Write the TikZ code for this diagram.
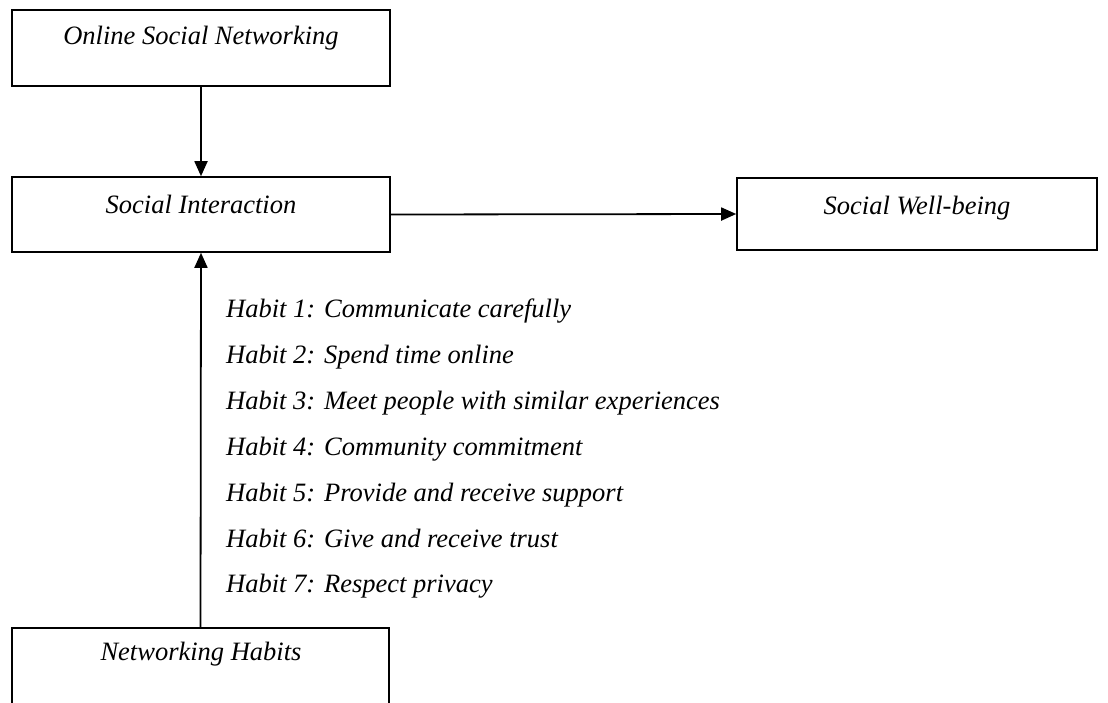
\documentclass[tikz,border=0pt]{standalone}
\usepackage{fontspec}
\setmainfont{Liberation Serif}
\usetikzlibrary{arrows.meta}
\tikzset{
  box/.style={draw, line width=1.6pt, rectangle, inner sep=0pt},
  lbl/.style={font=\itshape\fontsize{26.5}{30}\selectfont, inner sep=0pt},
  habit/.style={font=\itshape\fontsize{26.5}{30}\selectfont, inner sep=0pt, anchor=base west},
  conn/.style={line width=1.8pt, -{Triangle[length=15pt,width=13pt]}}
}
\begin{document}
\begin{tikzpicture}[x=1pt,y=-1pt]
\useasboundingbox (0,0) rectangle (1108,702);
\clip (0,0) rectangle (1108,702);
% boxes
\node[box, minimum width=378pt, minimum height=76pt] (osn) at (201,48) {};
\node[box, minimum width=378pt, minimum height=75pt] (si) at (201,214.5) {};
\node[box, minimum width=360pt, minimum height=72pt] (sw) at (917,214) {};
\node[box, minimum width=377pt, minimum height=90pt] (nh) at (200.5,673) {};
% box texts
\node[lbl] (osnt) at (201,38) {Online Social Networking};
\node[lbl] (sit) at (201,204) {Social Interaction};
\node[lbl] (swt) at (917,208) {Social Well-being};
\node[lbl] (nht) at (201,654) {Networking Habits};
% habits
\node[habit] (h1) at (226,317) {Habit 1: Communicate carefully};
\node[habit] (h2) at (226,363) {Habit 2: Spend time online};
\node[habit] (h3) at (226,409) {Habit 3: Meet people with similar experiences};
\node[habit] (h4) at (226,455) {Habit 4: Community commitment};
\node[habit] (h5) at (226,501) {Habit 5: Provide and receive support};
\node[habit] (h6) at (226,547) {Habit 6: Give and receive trust};
\node[habit] (h7) at (226,592) {Habit 7: Respect privacy};
% connectors
\draw[conn] (osn.south) -- (si.north);
\draw[conn] (nh.north) -- (si.south);
\draw[conn] (si.east) -- (sw.west);
\end{tikzpicture}
\end{document}
